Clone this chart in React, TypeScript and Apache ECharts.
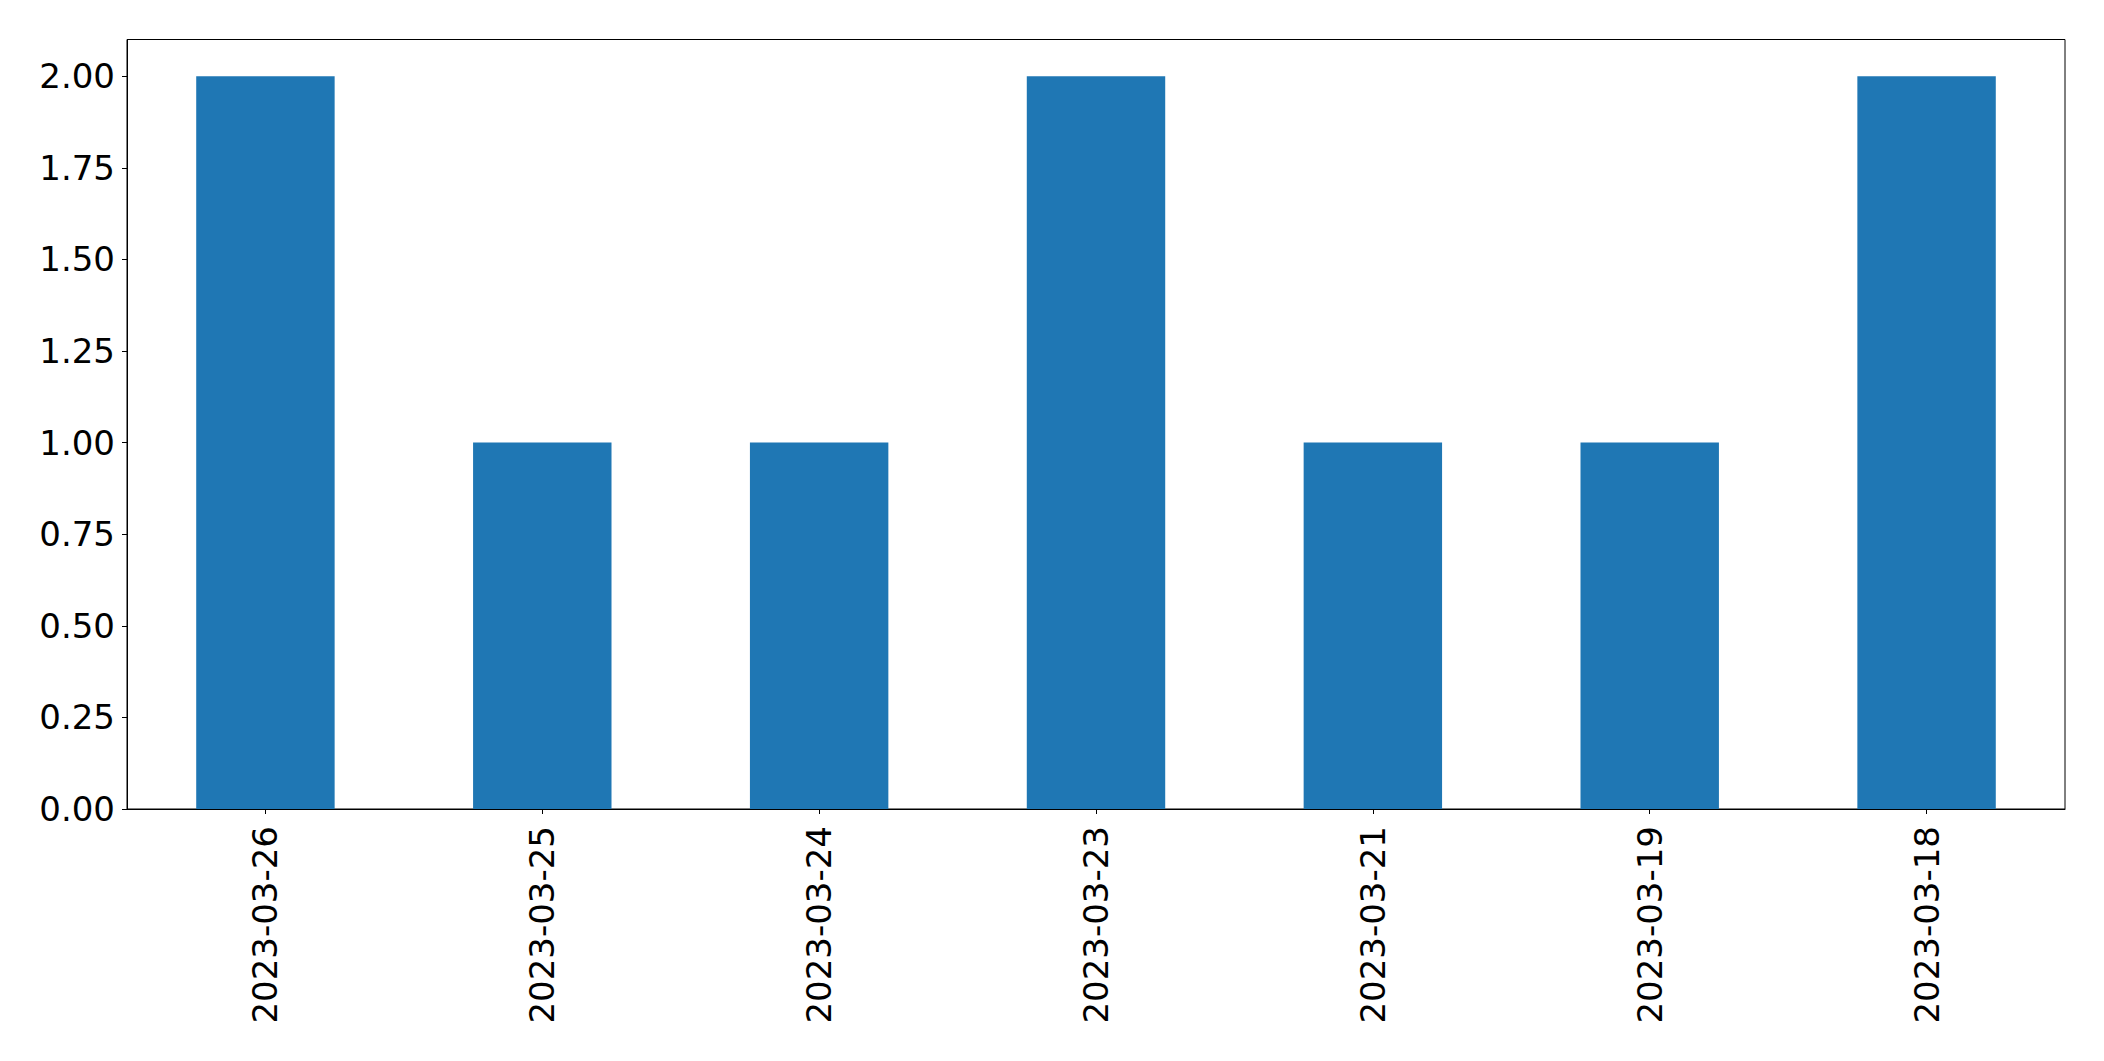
import React, { useEffect, useRef } from "react";
import * as echarts from "echarts";

const categories = ["2023-03-26", "2023-03-25", "2023-03-24", "2023-03-23", "2023-03-21", "2023-03-19", "2023-03-18"];
const values = [2, 1, 1, 2, 1, 1, 2];
const yTicks = [0, 0.25, 0.5, 0.75, 1.0, 1.25, 1.5, 1.75, 2.0];

export default function App() {
  const ref = useRef<HTMLDivElement>(null);
  useEffect(() => {
    document.body.style.margin = "0";
    const chart = echarts.init(ref.current!, null, { renderer: "svg" });
    const font = "DejaVu Sans";
    chart.setOption({
      animation: false,
      backgroundColor: "#fff",
      grid: {
        left: 127,
        right: 39,
        top: 39.5,
        bottom: 252,
        show: true,
        borderColor: "#000",
        borderWidth: 1,
        containLabel: false,
      },
      xAxis: {
        type: "category",
        data: categories,
        boundaryGap: true,
        axisLine: { show: true, lineStyle: { color: "#000", width: 1 } },
        axisTick: { show: true, alignWithLabel: true, length: 5, lineStyle: { color: "#000", width: 1 } },
        axisLabel: {
          rotate: 90,
          margin: 17,
          color: "#000",
          fontFamily: font,
          fontSize: 34,
          interval: 0,
        },
        splitLine: { show: false },
      },
      yAxis: {
        type: "value",
        min: 0,
        max: 2.1,
        interval: 0.25,
        axisLine: { show: true, lineStyle: { color: "#000", width: 1 } },
        axisTick: { show: true, length: 5, customValues: yTicks, lineStyle: { color: "#000", width: 1 } },
        axisLabel: {
          customValues: yTicks,
          margin: 12,
          color: "#000",
          fontFamily: font,
          fontSize: 34,
          formatter: (v: number) => v.toFixed(2),
        },
        splitLine: { show: false },
      },
      series: [
        {
          type: "bar",
          data: values,
          barWidth: "50%",
          itemStyle: { color: "#1f77b4" },
        },
      ],
    });
    return () => chart.dispose();
  }, []);
  return <div ref={ref} style={{ position: "fixed", left: 0, top: 0, width: 2104, height: 1061 }} />;
}
